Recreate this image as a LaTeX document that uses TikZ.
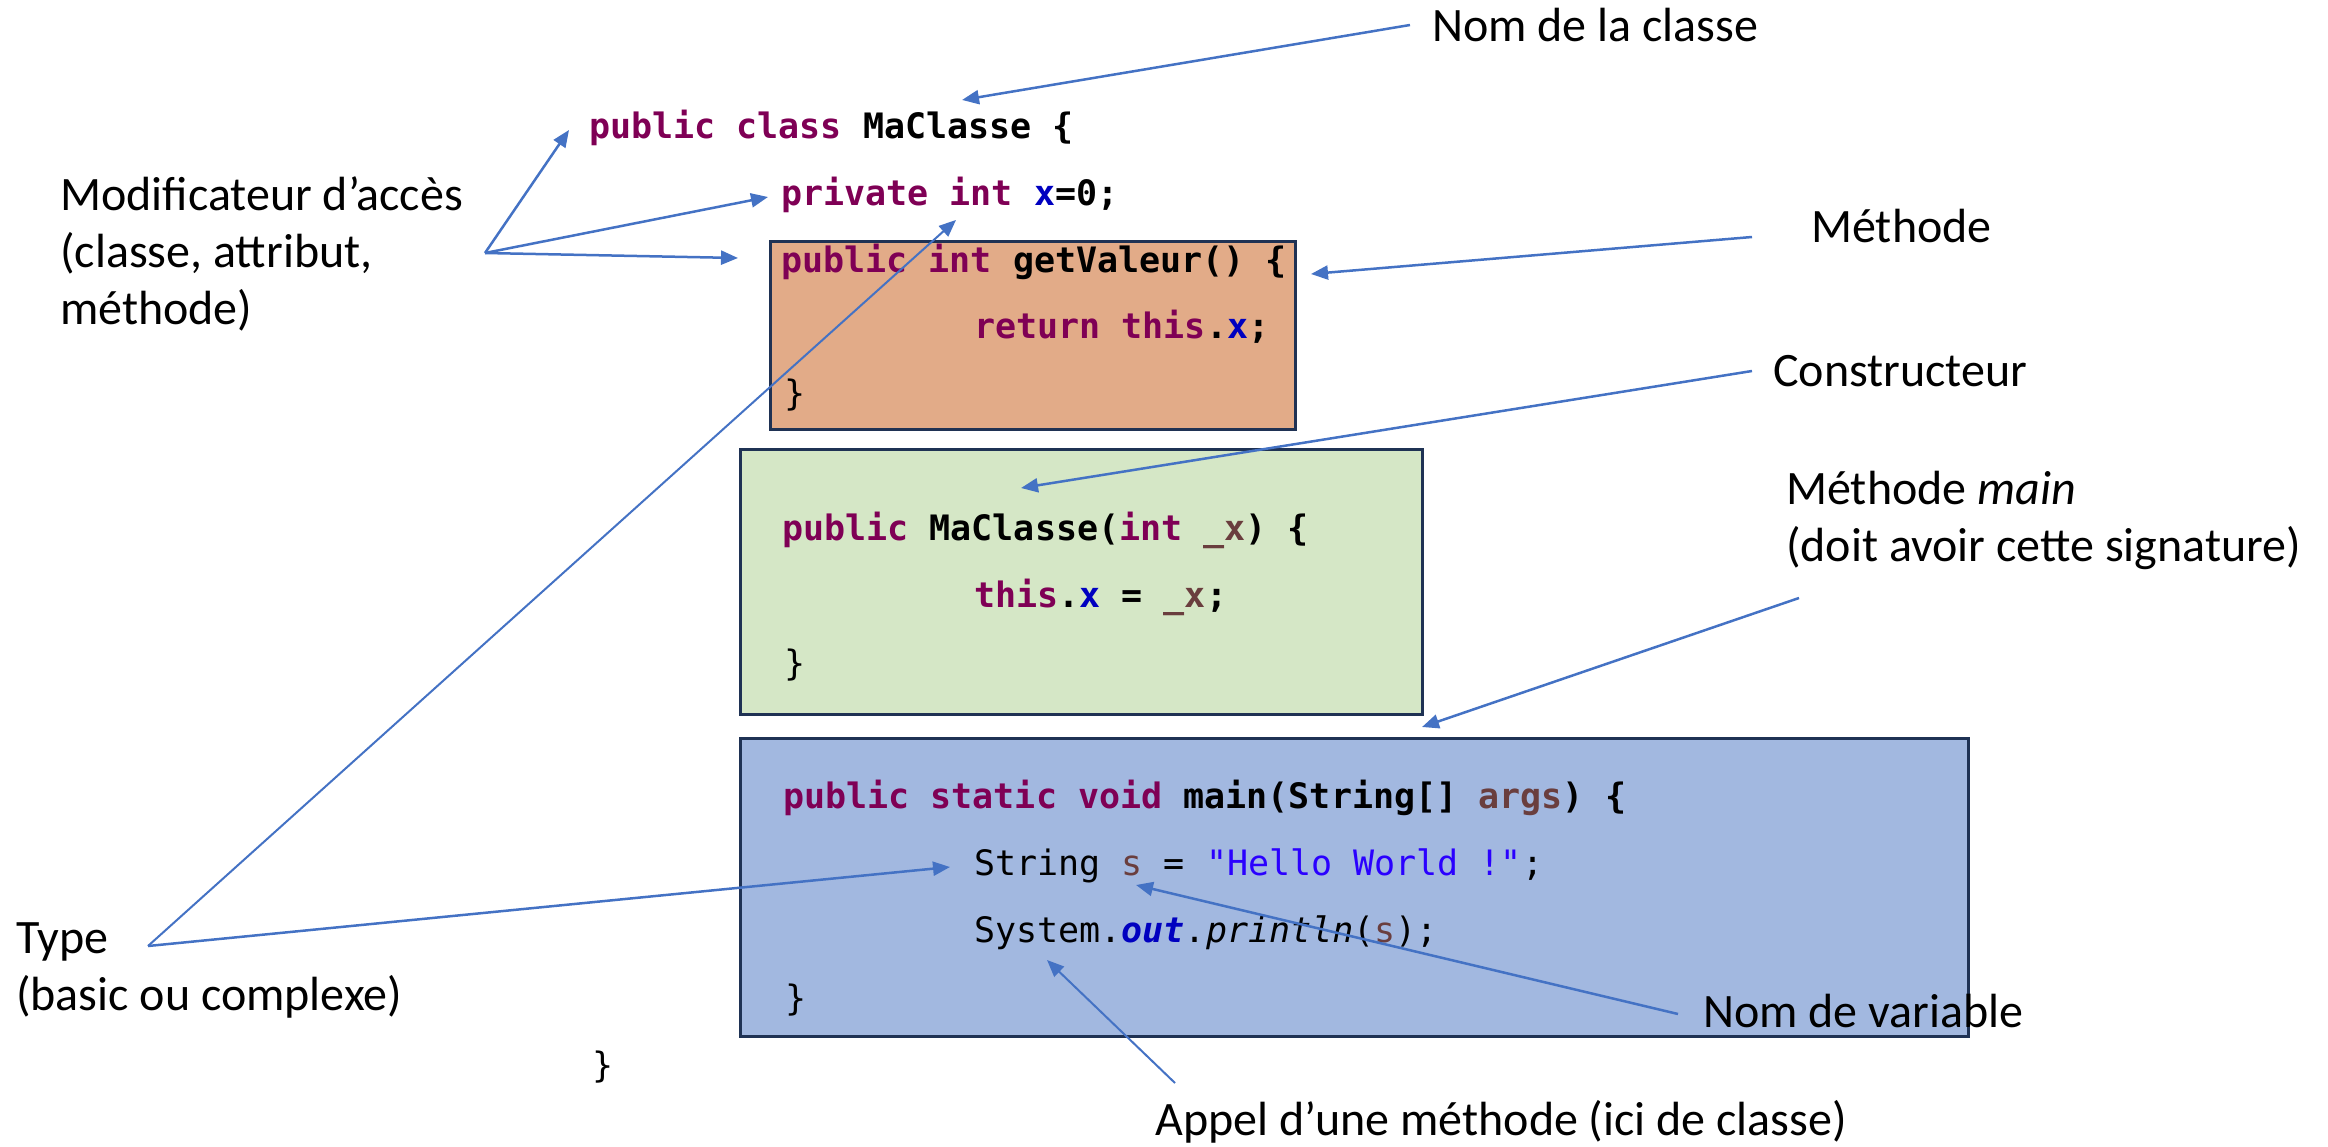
\documentclass[tikz,border=0pt]{standalone}
\usepackage{fontspec}
\setmainfont{Carlito}
\newfontfamily\codefam{DejaVu Sans Mono}
\usetikzlibrary{arrows.meta}

% syntax colours of the Java listing
\definecolor{jkwcol}{HTML}{7F0055}
\definecolor{jfieldcol}{HTML}{0000C0}
\definecolor{jlocalcol}{HTML}{6A3E3E}
\definecolor{jstrcol}{HTML}{2A00FF}
% annotation and block colours
\definecolor{arrowblue}{HTML}{4472C4}
\definecolor{boxedge}{HTML}{1F3254}
\definecolor{orangefill}{HTML}{E2AB88}
\definecolor{greenfill}{HTML}{D5E7C6}
\definecolor{bluefill}{HTML}{A2B8E0}

\newcommand\jkw[1]{\textcolor{jkwcol}{#1}}
\newcommand\jfld[1]{\textcolor{jfieldcol}{#1}}
\newcommand\jloc[1]{\textcolor{jlocalcol}{#1}}
\newcommand\jstr[1]{\textcolor{jstrcol}{#1}}
\newcommand\lblfont{\fontsize{48}{57}\selectfont}
\newcommand\codefont{\codefam\fontsize{35}{42}\selectfont}

\tikzset{
  % multi-line labels are placed by the baseline of their last line
  lbl/.style={font=\lblfont, inner sep=0pt, anchor=base west, align=left},
  codeline/.style={font=\codefont, inner sep=0pt, anchor=base west},
  block/.style={draw=boxedge, line width=3pt, anchor=north west, inner sep=0pt},
  pointer/.style={draw=arrowblue, line width=2.5pt, -{Triangle[length=17pt,width=14pt]}},
  thinpointer/.style={pointer, line width=2pt},
}

\begin{document}
\begin{tikzpicture}[x=1pt, y=-1pt]
\useasboundingbox (0,0) rectangle (2328,1147);

% method, constructor and main blocks
\node[block, fill=orangefill, minimum width=525pt, minimum height=188pt] (getbox) at (769,240) {};
\node[block, fill=greenfill, minimum width=682pt, minimum height=265pt] (ctorbox) at (739,448) {};
\node[block, fill=bluefill, minimum width=1228pt, minimum height=298pt] (mainbox) at (739,737) {};

% listing
\node[codeline] (cls) at (589,139) {\bfseries\jkw{public} \jkw{class} MaClasse \{};
\node[codeline] (fld) at (781,206) {\bfseries\jkw{private} \jkw{int} \jfld{x}=0;};
\node[codeline] (get1) at (781,273) {\bfseries\jkw{public} \jkw{int} getValeur() \{};
\node[codeline] (get2) at (974,339) {\bfseries\jkw{return} \jkw{this}.\jfld{x};};
\node[codeline] (get3) at (784,405) {\}};
\node[codeline] (ctor1) at (782,540) {\bfseries\jkw{public} MaClasse(\jkw{int} \jloc{\_x}) \{};
\node[codeline] (ctor2) at (974,607) {\bfseries\jkw{this}.\jfld{x} = \jloc{\_x};};
\node[codeline] (ctor3) at (784,675) {\}};
\node[codeline] (main1) at (783,808) {\bfseries\jkw{public} \jkw{static} \jkw{void} main(String[] \jloc{args}) \{};
\node[codeline] (main2) at (974,875) {String \jloc{s} = \jstr{\char34 Hello World !\char34};};
\node[codeline] (main3) at (974,942) {System.{\bfseries\itshape\jfld{out}}.\textit{println}(\jloc{s});};
\node[codeline] (main4) at (785,1010) {\}};
\node[codeline] (clsend) at (592,1077) {\}};

% annotations
\node[lbl] (nom) at (1432,42) {Nom de la classe};
\node[lbl] (modif) at (60,325) {Modificateur d’accès\\(classe, attribut,\\méthode)};
\node[lbl] (meth) at (1811,243) {Méthode};
\node[lbl] (cons) at (1773,386) {Constructeur};
\node[lbl] (mmain) at (1786,561) {Méthode \textit{main}\\(doit avoir cette signature)};
\node[lbl] (typ) at (16,1010) {Type\\(basic ou complexe)};
\node[lbl] (var) at (1703,1027) {Nom de variable};
\node[lbl] (appel) at (1155,1135) {Appel d’une méthode (ici de classe)};

% connector ends
\coordinate (nomFrom) at (1410,25);
\coordinate (nomTo) at (962,100);
\coordinate (modFrom) at (485,253);
\coordinate (modCls) at (569,130);
\coordinate (modFld) at (768,197);
\coordinate (modGet) at (738,258);
\coordinate (methFrom) at (1752,237);
\coordinate (methTo) at (1311,274);
\coordinate (consFrom) at (1752,371);
\coordinate (consTo) at (1021,488);
\coordinate (mainFrom) at (1799,598);
\coordinate (mainTo) at (1422,727);
\coordinate (typFrom) at (148,946);
\coordinate (typInt) at (956,220);
\coordinate (typStr) at (950,867);
\coordinate (varFrom) at (1678,1014);
\coordinate (varTo) at (1136,885);
\coordinate (appelFrom) at (1175,1083);
\coordinate (appelTo) at (1047,960);

% connectors
\draw[pointer] (nomFrom) -- (nomTo);
\draw[pointer] (modFrom) -- (modCls);
\draw[pointer] (modFrom) -- (modFld);
\draw[pointer] (modFrom) -- (modGet);
\draw[pointer] (methFrom) -- (methTo);
\draw[pointer] (consFrom) -- (consTo);
\draw[pointer] (mainFrom) -- (mainTo);
\draw[thinpointer] (typFrom) -- (typInt);
\draw[pointer] (typFrom) -- (typStr);
\draw[pointer] (varFrom) -- (varTo);
\draw[thinpointer] (appelFrom) -- (appelTo);
\end{tikzpicture}
\end{document}
